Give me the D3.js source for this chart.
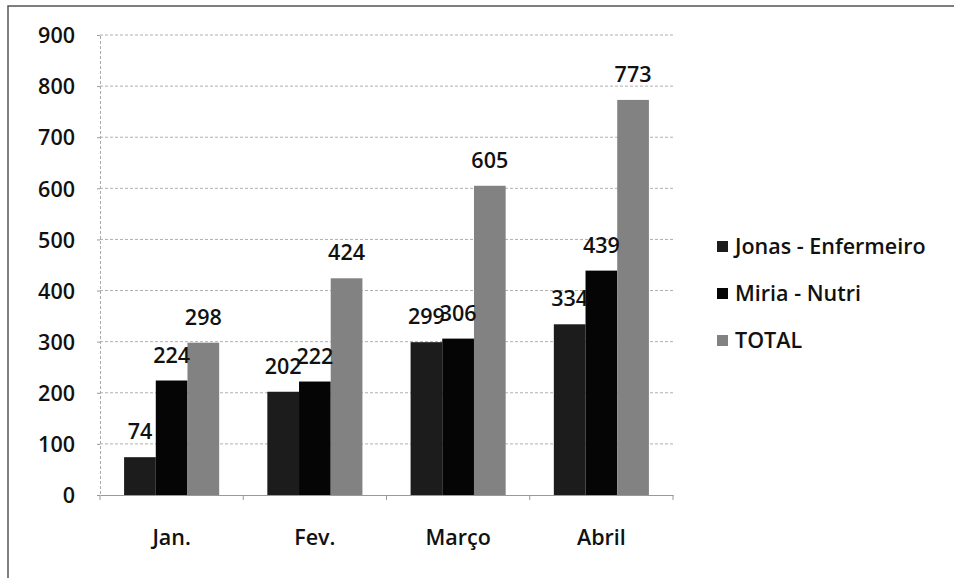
<!DOCTYPE html>
<html><head><meta charset="utf-8">
<script src="https://cdn.jsdelivr.net/npm/d3@7"></script>
<style>
html,body{margin:0;padding:0;background:#fff;}
svg{display:block;}
text{font-family:"Open Sans","DejaVu Sans",sans-serif;font-weight:600;fill:#111;}
</style></head>
<body>
<svg id="chart" width="954" height="578"></svg>
<script>
const categories = ["Jan.", "Fev.", "Março", "Abril"];
const seriesNames = ["Jonas - Enfermeiro", "Miria - Nutri", "TOTAL"];
const jonas = [74, 202, 299, 334];
const miria = [224, 222, 306, 439];
const total = [298, 424, 605, 773];
const yTicks = [0, 100, 200, 300, 400, 500, 600, 700, 800, 900];
const colors = ["#1c1c1c", "#050505", "#828282"];

const seriesValues = [jonas, miria, total];
const svg = d3.select("#chart");
const FS = "21.5px";

// frame
svg.append("path").attr("d", "M8,578 L8,6 L954,6").attr("fill", "none")
  .attr("stroke", "#555").attr("stroke-width", 1.5);

const y = d3.scaleLinear().domain([0, 900]).range([495, 35]);
const x0 = d3.scaleBand().domain(categories).range([100, 673]).padding(0);
const x1 = d3.scaleBand().domain(seriesNames).range([0, x0.bandwidth()]).paddingInner(0).paddingOuter(0.76);

// gridlines
svg.append("g").selectAll("line").data(yTicks.filter(d => d > 0)).join("line")
  .attr("x1", 100).attr("x2", 673).attr("y1", d => y(d)).attr("y2", d => y(d))
  .attr("stroke", "#b0b0b0").attr("stroke-width", 1).attr("stroke-dasharray", "3,2");

// y axis
const yAxis = svg.append("g").attr("transform", "translate(100,0)")
  .call(d3.axisLeft(y).tickValues(yTicks).tickSize(3).tickPadding(22));
yAxis.select(".domain").attr("stroke", "#aaa").attr("stroke-dasharray", "3,2");
yAxis.selectAll(".tick line").attr("stroke", "#999");
yAxis.selectAll(".tick text").style("font-size", FS).style("font-family", "'Open Sans',sans-serif")
  .style("font-weight", "600").attr("fill", "#111").attr("dy", "0.36em");

// bars
const groups = svg.append("g").selectAll("g").data(categories).join("g")
  .attr("transform", c => `translate(${x0(c)},0)`);
groups.selectAll("rect").data((c, i) => seriesNames.map((s, k) => ({s, k, v: seriesValues[k][i]})))
  .join("rect")
  .attr("x", d => x1(d.s)).attr("width", x1.bandwidth())
  .attr("y", d => y(d.v)).attr("height", d => y(0) - y(d.v))
  .attr("fill", d => colors[d.k]);

// x axis
const xAxis = svg.append("g").attr("transform", "translate(0,495)")
  .call(d3.axisBottom(x0).tickSize(0).tickPadding(35));
xAxis.select(".domain").attr("stroke", "#999");
xAxis.selectAll(".tick text").style("font-size", FS).style("font-family", "'Open Sans',sans-serif")
  .style("font-weight", "600").attr("fill", "#111");
// boundary ticks
const bounds = categories.map(c => x0(c) + x0.bandwidth()).concat([x0(categories[0])]);
svg.append("g").selectAll("line").data(bounds).join("line")
  .attr("x1", d => d).attr("x2", d => d).attr("y1", 495).attr("y2", 500)
  .attr("stroke", "#999");

// data labels
groups.selectAll("text.lbl").data((c, i) => seriesNames.map((s, k) => ({s, k, v: seriesValues[k][i]})))
  .join("text").attr("class", "lbl")
  .attr("x", d => x1(d.s) + x1.bandwidth() / 2)
  .attr("y", d => y(d.v) - 18)
  .attr("text-anchor", "middle")
  .style("font-size", FS)
  .text(d => d.v);

// legend
const legend = svg.append("g").selectAll("g").data(seriesNames).join("g")
  .attr("transform", (d, i) => `translate(717,${246 + i * 47})`);
legend.append("rect").attr("x", 0).attr("y", -5).attr("width", 11).attr("height", 11)
  .attr("fill", (d, i) => colors[i]);
legend.append("text").attr("x", 18).attr("y", 0).attr("dy", "0.36em")
  .style("font-size", FS).text(d => d);
</script>
</body></html>
